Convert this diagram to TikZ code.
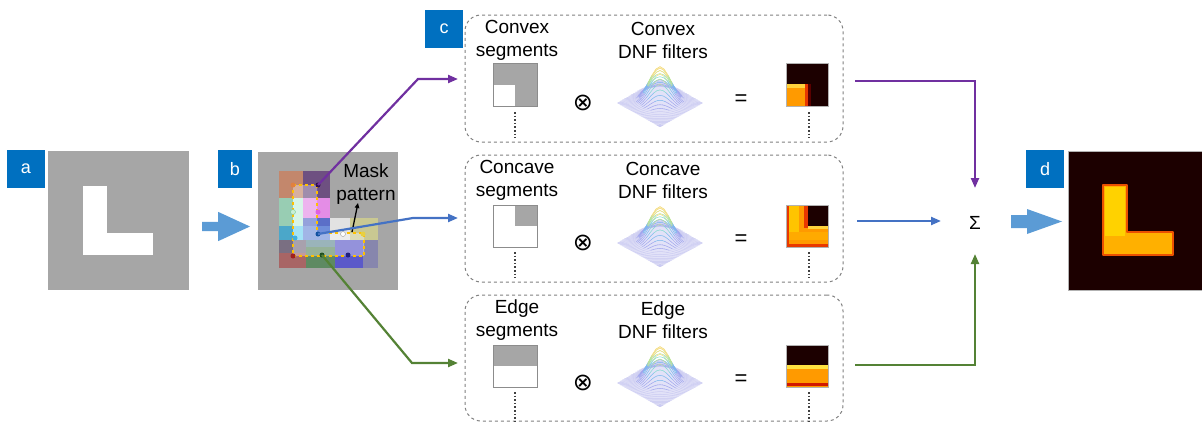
\documentclass[tikz,border=0pt]{standalone}
\usepackage{fontspec}
\setmainfont{Liberation Sans}
\newfontfamily\djv{DejaVu Sans}
\usetikzlibrary{arrows.meta,calc}
\definecolor{lblblue}{HTML}{0070C0}
\definecolor{imggray}{HTML}{A6A6A6}
\definecolor{fatblue}{HTML}{5B9BD5}
\definecolor{cpur}{HTML}{7030A0}
\definecolor{cblue}{HTML}{4472C4}
\definecolor{cgreen}{HTML}{548235}
\definecolor{boxgray}{HTML}{808080}
\definecolor{hdark}{HTML}{1C0000}
\definecolor{horange}{HTML}{FF9A00}
\definecolor{hyellow}{HTML}{FFD23C}
\definecolor{hred}{HTML}{E83800}
\definecolor{gold}{HTML}{FFC000}
\definecolor{meshbase}{RGB}{226,226,248}
\definecolor{mesh0}{RGB}{204,204,242}
\definecolor{mesh1}{RGB}{160,165,238}
\definecolor{mesh2}{RGB}{125,185,238}
\definecolor{mesh3}{RGB}{130,218,208}
\definecolor{mesh4}{RGB}{190,228,145}
\definecolor{mesh5}{RGB}{245,222,135}
% mosaic colours
\definecolor{mA}{RGB}{195,135,108}
\definecolor{mB}{RGB}{110,80,129}
\definecolor{mC}{RGB}{152,205,179}
\definecolor{mD}{RGB}{194,240,221}
\definecolor{mE}{RGB}{228,141,230}
\definecolor{mF}{RGB}{91,111,200}
\definecolor{mG}{RGB}{111,142,218}
\definecolor{mH}{RGB}{75,167,201}
\definecolor{mI}{RGB}{115,211,242}
\definecolor{mJ}{RGB}{226,226,226}
\definecolor{mK}{RGB}{201,200,146}
\definecolor{mL}{RGB}{122,111,130}
\definecolor{mM}{RGB}{168,101,101}
\definecolor{mN}{RGB}{100,140,150}
\definecolor{mO}{RGB}{94,138,98}
\definecolor{mP}{RGB}{91,89,201}
\definecolor{mQ}{RGB}{135,134,173}
% dot colours
\definecolor{dA}{RGB}{225,128,64}
\definecolor{dB}{RGB}{48,16,80}
\definecolor{dC}{RGB}{120,200,150}
\definecolor{dCf}{RGB}{200,240,215}
\definecolor{dD}{RGB}{225,96,225}
\definecolor{dE}{RGB}{64,176,224}
\definecolor{dF}{RGB}{16,80,160}
\definecolor{dH}{RGB}{232,208,64}
\definecolor{dI}{RGB}{160,32,32}
\definecolor{dJ}{RGB}{32,80,32}
\definecolor{dK}{RGB}{32,32,128}
% heat colours
\definecolor{hA}{RGB}{90,0,0}
\definecolor{hB}{RGB}{255,196,0}
\definecolor{hC}{RGB}{255,170,0}
\definecolor{hD}{RGB}{255,225,64}
\definecolor{hE}{RGB}{208,24,0}
\definecolor{hF}{RGB}{235,80,0}
\definecolor{hG}{RGB}{255,176,0}
\definecolor{hH}{RGB}{255,210,0}
\newcommand\dnfmesh[2]{%
  \fill[meshbase] (#1-43,#2) -- (#1,#2-24) -- (#1+43,#2) -- (#1,#2+24) -- cycle;
  \foreach \k in {0,...,39}{%
    \pgfmathsetmacro\s{-3.9+0.2*\k}%
    \pgfmathsetmacro\tm{4-abs(\s)}%
    \foreach \j in {0,...,19}{%
      \pgfmathsetmacro\ta{-(\tm)+(\tm)*\j/10}%
      \pgfmathsetmacro\tb{(\ta)+(\tm)/10}%
      \pgfmathsetmacro\tc{((\ta)+(\tb))/2}%
      \pgfmathsetmacro\za{exp(-((\s)*(\s)+(\ta)*(\ta))/2)}%
      \pgfmathsetmacro\zb{exp(-((\s)*(\s)+(\tb)*(\tb))/2)}%
      \pgfmathsetmacro\zc{exp(-((\s)*(\s)+(\tc)*(\tc))/2)}%
      \pgfmathtruncatemacro\bin{min(5,floor((\zc)*6+0.3))}%
      \draw[meshline,mesh\bin] ({#1+10.75*(\ta)},{#2+6*(\s)-36*(\za)}) -- ({#1+10.75*(\tb)},{#2+6*(\s)-36*(\zb)});
    }%
  }%
}
\begin{document}
\begin{tikzpicture}[x=1pt,y=-1pt,
  txt/.style={font=\fontsize{19}{23}\selectfont, align=center, inner sep=0pt},
  lbl/.style={fill=lblblue, text=white, minimum width=38pt, minimum height=38pt, inner sep=0pt, font=\fontsize{18}{18}\selectfont},
  img/.style={fill=imggray, inner sep=0pt},
  cbox/.style={draw=boxgray, dashed, line width=1pt, rounded corners=16pt, minimum width=378pt, inner sep=0pt},
  conn/.style={line width=2.2pt, -{Triangle[length=10pt,width=8pt]}},
  meshline/.style={line width=0.5pt, line cap=round},
  dotln/.style={line width=1.6pt, dotted, black!75},
  seg/.style={draw=black!45, line width=0.8pt},
  mdot/.style={circle, inner sep=0pt, minimum size=5pt},
  otimes/.style={inner sep=0pt, font=\djv\fontsize{24}{24}\selectfont},
  eqs/.style={inner sep=0pt, font=\fontsize{22}{22}\selectfont}
]
\useasboundingbox (0,0) rectangle (1202,423);

% ---------- a ----------
\node[img, minimum width=141pt, minimum height=139pt] (imga) at (118.5,220.5) {};
\fill[white] (83,186) rectangle (107,255);
\fill[white] (83,233) rectangle (153,255);
\node[lbl] (la) at (26,169) {a};

% fat arrow a -> b
\coordinate (fa) at (202,226.5);
\fill[fatblue] (fa) ++(0,-4.7) -- ++(16,0) -- ++(0,-10) -- ++(32,14.7) -- ++(-32,14.7) -- ++(0,-10) -- ++(-16,0) -- cycle;

% ---------- b ----------
\node[img, minimum width=140pt, minimum height=138pt] (imgb) at (328,221) {};
\node[lbl, minimum width=34pt] (lb) at (235,169) {b};
% mosaic
\fill[mA] (279,171) rectangle (303,198);
\fill[mB] (303,171) rectangle (330,198);
\fill[mC] (279,198) rectangle (293,226);
\fill[mD] (293,198) rectangle (303,226);
\fill[mE] (303,198) rectangle (330,218);
\fill[mF] (303,218) rectangle (330,226);
\fill[mG] (303,226) rectangle (330,240);
\fill[mH] (279,226) rectangle (293,240);
\fill[mI] (293,226) rectangle (303,240);
\fill[mJ] (330,218) rectangle (350,240);
\fill[mK] (350,218) rectangle (378,240);
\fill[mL] (279,240) rectangle (306,253);
\fill[mM] (279,253) rectangle (306,268);
\fill[mN] (306,240) rectangle (335,247);
\fill[mO] (306,247) rectangle (335,268);
\fill[mP] (335,240) rectangle (363,268);
\fill[mQ] (363,240) rectangle (378,268);
\fill[white, opacity=0.35] (293,185) -- (317,185) -- (317,233) -- (364,233) -- (364,256) -- (293,256) -- cycle;
\draw[gold, dashed, line width=1.3pt] (293,185) -- (317,185) -- (317,233) -- (364,233) -- (364,256) -- (293,256) -- cycle;
% dots
\node[mdot, fill=dA] (d1) at (293,185) {};
\node[mdot, fill=dB] (pdot) at (318,185) {};
\node[mdot, draw=dC, fill=dCf] (d3) at (293,212) {};
\node[mdot, fill=dD] (d4) at (318,212) {};
\node[mdot, fill=dE] (d5) at (295,238) {};
\node[mdot, fill=dF] (bdot) at (318,234) {};
\node[mdot, draw=black!40, fill=white] (d7) at (343,234) {};
\node[mdot, fill=dH] (d8) at (363,234) {};
\node[mdot, fill=dI] (d9) at (293,256) {};
\node[mdot, fill=dJ] (gdot) at (322,255) {};
\node[mdot, fill=dK] (d11) at (348,255) {};
% mask pattern
\node[txt] (mask) at (366,184) {Mask\\pattern};
\coordinate (mtail) at (352,232);
\coordinate (mhead) at (358,203);
\draw[line width=1.3pt, -{Triangle[length=5pt,width=4.5pt]}] (mtail) -- (mhead);

% ---------- c boxes ----------
\node[cbox, minimum height=127pt] (boxA) at (654,78.5) {};
\node[cbox, minimum height=127pt] (boxB) at (654,218.5) {};
\node[cbox, minimum height=126pt] (boxC) at (654,358) {};
\node[lbl] (lc) at (444,29) {c};

% connectors b -> c
\coordinate (pk) at (418,79);  \coordinate (cin) at (458,79);
\coordinate (bk) at (413,218); \coordinate (kin) at (458,218);
\coordinate (gk) at (412,363); \coordinate (ein) at (458,363);
\draw[conn, cpur] (pdot.center) -- (pk) -- (cin);
\draw[conn, cblue] (bdot.center) -- (bk) -- (kin);
\draw[conn, cgreen] (gdot.center) -- (gk) -- (ein);

% --- row contents ---
% Convex
\node[txt] (t1a) at (517,40) {Convex\\segments};
\node[txt] (t1b) at (663,40) {Convex\\DNF filters};
\fill[imggray] (493,63) rectangle (537,106);
\fill[white] (493,85) rectangle (515,106);
\draw[seg] (493,63) rectangle (537,106);
\node[otimes] (ot1) at (583,103) {⊗};
\dnfmesh{660}{103}
\node[eqs] (eq1) at (741,100) {=};
\fill[hdark] (786,63) rectangle (828,106);
\fill[hA] (806,84) rectangle (811,106);
\fill[horange] (786,86) rectangle (806,106);
\fill[hyellow] (786,84) rectangle (806,88);
\fill[hred] (805,84) rectangle (808,106);
\draw[black!30, line width=0.5pt] (786,63) rectangle (828,106);
\draw[dotln] (515,112) -- (515,138);
\draw[dotln] (809,112) -- (809,138);

% Concave
\node[txt] (t2a) at (517,180) {Concave\\segments};
\node[txt] (t2b) at (663,180) {Concave\\DNF filters};
\fill[white] (493,205) rectangle (537,247);
\fill[imggray] (515,205) rectangle (537,226);
\draw[seg] (493,205) rectangle (537,247);
\node[otimes] (ot2) at (583,243) {⊗};
\dnfmesh{660}{243}
\node[eqs] (eq2) at (741,240) {=};
\fill[horange] (786,205) rectangle (828,247);
\fill[hB] (789,205) rectangle (799,232);
\fill[hC] (789,232) rectangle (828,240);
\fill[hred] (786,205) rectangle (789,247);
\fill[hred] (786,244) rectangle (828,247);
\fill[hred] (804,205) rectangle (808,228);
\fill[hdark] (808,205) rectangle (828,226);
\fill[hyellow] (808,226) rectangle (828,229);
\draw[black!30, line width=0.5pt] (786,205) rectangle (828,247);
\draw[dotln] (515,252) -- (515,278);
\draw[dotln] (809,252) -- (809,278);

% Edge
\node[txt] (t3a) at (517,320) {Edge\\segments};
\node[txt] (t3b) at (663,320) {Edge\\DNF filters};
\fill[white] (493,345) rectangle (537,387);
\fill[imggray] (493,345) rectangle (537,366);
\draw[seg] (493,345) rectangle (537,387);
\node[otimes] (ot3) at (583,383) {⊗};
\dnfmesh{660}{383}
\node[eqs] (eq3) at (741,380) {=};
\fill[hdark] (786,345) rectangle (828,365);
\fill[hD] (786,365) rectangle (828,369);
\fill[horange] (786,369) rectangle (828,387);
\fill[hE] (786,383) rectangle (828,386);
\draw[black!30, line width=0.5pt] (786,345) rectangle (828,387);
\draw[dotln] (515,392) -- (515,421);
\draw[dotln] (809,392) -- (809,421);

% ---------- sum ----------
\node[inner sep=0pt, font=\fontsize{19}{19}\selectfont] (sig) at (975,223) {Σ};
\coordinate (cout) at (855,81);  \coordinate (sigT) at (975,188);
\coordinate (kout) at (857,221); \coordinate (sigL) at (941,221);
\coordinate (eout) at (855,365); \coordinate (sigB) at (975,254);
\draw[conn, cpur] (cout) -| (sigT);
\draw[conn, cblue] (kout) -- (sigL);
\draw[conn, cgreen] (eout) -| (sigB);

% fat arrow sum -> d
\coordinate (fb) at (1011,221.5);
\fill[fatblue] (fb) ++(0,-6.5) -- ++(16,0) -- ++(0,-6) -- ++(35,12.5) -- ++(-35,12.5) -- ++(0,-6) -- ++(-16,0) -- cycle;

% ---------- d ----------
\node[fill=hdark, draw=black!30, line width=0.6pt, minimum width=134pt, minimum height=139pt, inner sep=0pt] (imgd) at (1135,220.5) {};
\draw[hF, line width=1.6pt, fill=hG, line join=round] (1103,185) -- (1127,185) -- (1127,232) -- (1173,232) -- (1173,255) -- (1103,255) -- cycle;
\fill[hH] (1105,187) rectangle (1125,236);
\node[lbl] (ld) at (1045,169) {d};
\end{tikzpicture}
\end{document}
